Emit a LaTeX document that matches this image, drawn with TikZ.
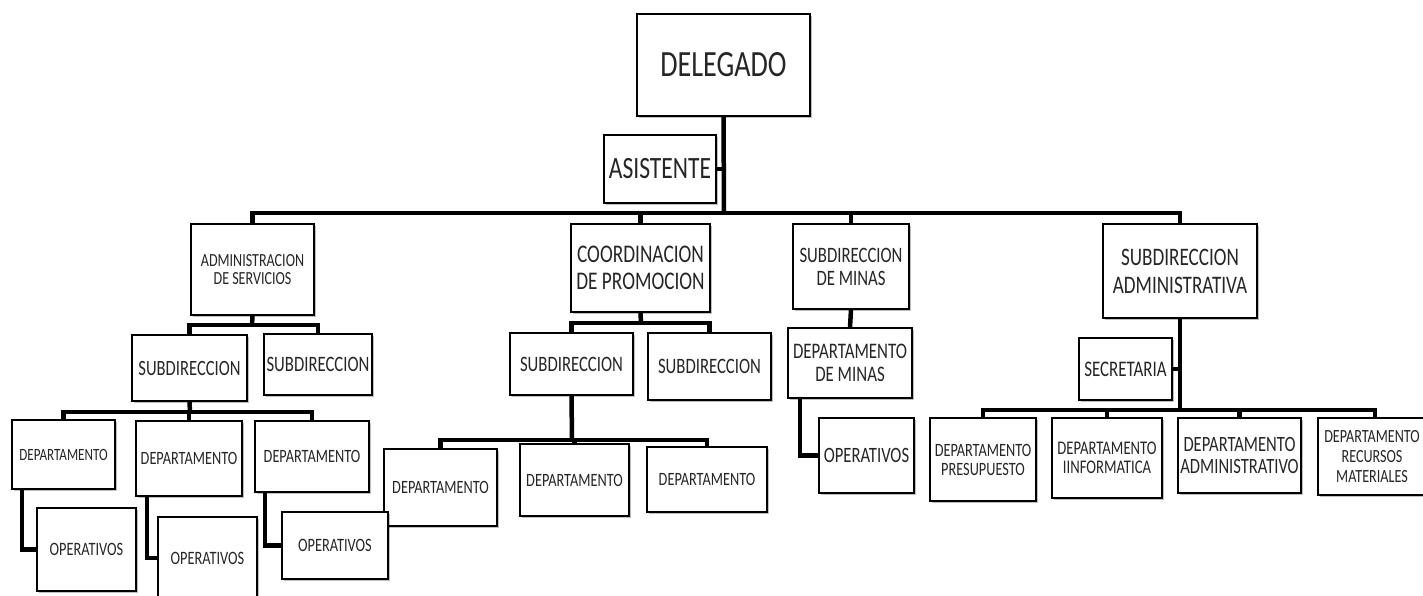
\documentclass[tikz,border=0pt]{standalone}
\usepackage{fontspec}
\newfontfamily\cf[FakeStretch=0.76]{Carlito}
\usetikzlibrary{shadows}
\tikzset{
  box/.style={draw=black, line width=1.8pt, fill=white, inner sep=0pt, align=center,
    text=black!85,
    drop shadow={shadow xshift=1.5pt, shadow yshift=-1.5pt, fill=black, opacity=0.25}},
  conn/.style={draw=black, line width=4.5pt},
}
\newcommand\fz[1]{\cf\fontsize{#1}{#1}\selectfont}
\begin{document}
\begin{tikzpicture}[x=1pt,y=-1pt]
\path[use as bounding box] (0,0) rectangle (1423,595);
\clip (0,0) rectangle (1423,595);
% level 0 / 1
\node[box, minimum width=173, minimum height=102, font=\fz{37}] (del) at (723.5,65) {DELEGADO};
\node[box, minimum width=112, minimum height=68, font=\fz{31}] (asi) at (660,169) {ASISTENTE};
\node[box, minimum width=123, minimum height=91, font=\fz{18.5}] (adm) at (252.5,269.5) {ADMINISTRACION\\DE SERVICIOS};
\node[box, minimum width=139, minimum height=88, font=\cf\fontsize{25.4}{27}\selectfont] (coo) at (640.5,268) {COORDINACION\\DE PROMOCION};
\node[box, minimum width=116, minimum height=85, font=\cf\fontsize{22}{23}\selectfont] (min) at (851,266.5) {SUBDIRECCION\\DE MINAS};
\node[box, minimum width=154, minimum height=94, font=\cf\fontsize{25.2}{28}\selectfont] (sa) at (1180,271) {SUBDIRECCION\\ADMINISTRATIVA};
% level 2
\node[box, minimum width=115, minimum height=66, font=\fz{21.8}] (s11) at (189.5,368) {SUBDIRECCION};
\node[box, minimum width=108, minimum height=61, font=\fz{22}] (s12) at (318,364.5) {SUBDIRECCION};
\node[box, minimum width=123, minimum height=62, font=\fz{22}] (s21) at (571.5,364) {SUBDIRECCION};
\node[box, minimum width=123, minimum height=67, font=\fz{22}] (s22) at (709.5,366.5) {SUBDIRECCION};
\node[box, minimum width=124, minimum height=70, font=\cf\fontsize{22.2}{23}\selectfont] (dm) at (850,363) {DEPARTAMENTO\\DE MINAS};
\node[box, minimum width=93, minimum height=62, font=\fz{22.3}] (sec) at (1125.5,369) {SECRETARIA};
% level 3
\node[box, minimum width=103, minimum height=69, font=\fz{17.2}] (d1) at (63.5,454.5) {DEPARTAMENTO};
\node[box, minimum width=106, minimum height=75, font=\fz{18.8}] (d2) at (189,458.5) {DEPARTAMENTO};
\node[box, minimum width=114, minimum height=71, font=\fz{18.8}] (d3) at (312,456.5) {DEPARTAMENTO};
\node[box, minimum width=113, minimum height=77, font=\fz{18.8}] (dc1) at (440.5,487.5) {DEPARTAMENTO};
\node[box, minimum width=109, minimum height=72, font=\fz{18.8}] (dc2) at (574.5,480) {DEPARTAMENTO};
\node[box, minimum width=120, minimum height=65, font=\fz{18.8}] (dc3) at (707,479.5) {DEPARTAMENTO};
\node[box, minimum width=95, minimum height=75, font=\fz{21.9}] (om) at (866.5,455.5) {OPERATIVOS};
\node[box, minimum width=106, minimum height=83, font=\cf\fontsize{18.8}{19}\selectfont] (da1) at (983,459.5) {DEPARTAMENTO\\PRESUPUESTO};
\node[box, minimum width=110, minimum height=80, font=\cf\fontsize{19.3}{19.5}\selectfont] (da2) at (1107,458) {DEPARTAMENTO\\IINFORMATICA};
\node[box, minimum width=123, minimum height=75, font=\cf\fontsize{21.8}{22}\selectfont] (da3) at (1239.5,455.5) {DEPARTAMENTO\\ADMINISTRATIVO};
\node[box, minimum width=108, minimum height=77, font=\cf\fontsize{18.6}{20}\selectfont] (da4) at (1372,456.5) {DEPARTAMENTO\\RECURSOS\\MATERIALES};
% level 4
\node[box, minimum width=99, minimum height=83, font=\fz{18.9}] (o1) at (86.5,549.5) {OPERATIVOS};
\node[box, minimum width=99, minimum height=82, font=\fz{18.9}] (o2) at (207.5,558) {OPERATIVOS};
\node[box, minimum width=106, minimum height=67, font=\fz{18.9}] (o3) at (335,545.5) {OPERATIVOS};
% connectors
\coordinate (b0) at (724,213);
\coordinate (b1) at (252,325);
\coordinate (b2) at (190,412);
\coordinate (b3) at (641,323);
\coordinate (b4) at (572,440);
\coordinate (b5) at (1180,410);
\draw[conn] (del.south) -- (b0);
\draw[conn] (asi.east) -- (asi.east -| del.south);
\draw[conn] (adm.north) -- (adm.north |- b0) -- (sa.north |- b0) -- (sa.north);
\draw[conn] (coo.north) -- (coo.north |- b0);
\draw[conn] (min.north) -- (min.north |- b0);
% admin
\draw[conn] (adm.south) -- (b1);
\draw[conn] (s11.north) -- (s11.north |- b1) -- (s12.north |- b1) -- (s12.north);
\draw[conn] (s11.south) -- (b2);
\draw[conn] (d1.north) -- (d1.north |- b2) -- (d3.north |- b2) -- (d3.north);
\draw[conn] (d2.north) -- (d2.north |- b2);
\draw[conn] ([xshift=11pt]d1.south west) |- (o1.west);
\draw[conn] ([xshift=12pt]d2.south west) |- (o2.west);
\draw[conn] ([xshift=11pt]d3.south west) |- (o3.west);
% coordinacion
\draw[conn] (coo.south) -- (b3);
\draw[conn] (s21.north) -- (s21.north |- b3) -- (s22.north |- b3) -- (s22.north);
\draw[conn] (s21.south) -- (b4);
\draw[conn] (dc1.north) -- (dc1.north |- b4) -- (dc3.north |- b4) -- (dc3.north);
\draw[conn] (dc2.north) -- (dc2.north |- b4);
% minas
\draw[conn] (min.south) -- (dm.north);
\draw[conn] ([xshift=13pt]dm.south west) |- (om.west);
% subdireccion administrativa
\draw[conn] (sa.south) -- (b5);
\draw[conn] (sec.east) -- (sec.east -| sa.south);
\draw[conn] (da1.north) -- (da1.north |- b5) -- ([xshift=3pt]da4.north |- b5) -- ([xshift=3pt]da4.north);
\draw[conn] (da2.north) -- (da2.north |- b5);
\draw[conn] (da3.north) -- (da3.north |- b5);
\end{tikzpicture}
\end{document}
